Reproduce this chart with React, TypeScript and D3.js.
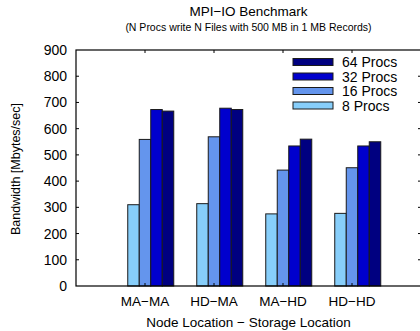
import React from "react";
import * as d3 from "d3";

const categories = ["MA\u2212MA", "HD\u2212MA", "MA\u2212HD", "HD\u2212HD"];
const seriesNames = ["8 Procs", "16 Procs", "32 Procs", "64 Procs"];
const seriesColors = ["#87CEFA", "#6495ED", "#0000CD", "#000080"];
const procs8 = [310, 314, 275, 277];
const procs16 = [559, 569, 442, 451];
const procs32 = [673, 678, 534, 534];
const procs64 = [667, 673, 560, 550];
const seriesValues = [procs8, procs16, procs32, procs64];
const yTicks = [0, 100, 200, 300, 400, 500, 600, 700, 800, 900];

const W = 420;
const H = 331;
const font = "'Liberation Sans', Arial, Helvetica, sans-serif";

export default function App() {
  const x = d3.scaleLinear().domain([-1, 4]).range([76, 421]);
  const y = d3.scaleLinear().domain([0, 900]).range([286, 50]);
  const barW = 1 / 6;
  const legendOrder = [3, 2, 1, 0];
  return (
    <svg
      width={W}
      height={H}
      style={{ position: "absolute", left: 0, top: 0, background: "#fff" }}
      fontFamily={font}
    >
      <text x={248.5} y={16} textAnchor="middle" fontSize={13.5} fill="#000">
        MPI{"\u2212"}IO Benchmark
      </text>
      <text x={248.5} y={31} textAnchor="middle" fontSize={10.5} fill="#000">
        (N Procs write N Files with 500 MB in 1 MB Records)
      </text>

      {/* bars */}
      {seriesValues.map((vals, s) =>
        vals.map((v, i) => {
          const x0 = x(i - 0.25 + s * barW);
          const x1 = x(i - 0.25 + (s + 1) * barW);
          return (
            <rect
              key={`${s}-${i}`}
              x={x0}
              y={y(v)}
              width={x1 - x0}
              height={y(0) - y(v)}
              fill={seriesColors[s]}
              stroke="#1a1a1a"
              strokeWidth={1}
            />
          );
        })
      )}

      {/* frame */}
      <rect x={76} y={50} width={345} height={236} fill="none" stroke="#000" strokeWidth={1.2} />

      {/* y ticks */}
      {yTicks.map((t) => (
        <g key={t}>
          {t > 0 && t < 900 && (
            <>
              <line x1={76} x2={79} y1={y(t)} y2={y(t)} stroke="#000" strokeWidth={1} />
              <line x1={418} x2={421} y1={y(t)} y2={y(t)} stroke="#000" strokeWidth={1} />
            </>
          )}
          <text x={67} y={y(t) + 5} textAnchor="end" fontSize={14} fill="#000">
            {t}
          </text>
        </g>
      ))}

      {/* x ticks and labels */}
      {categories.map((c, i) => (
        <g key={c}>
          <line x1={x(i)} x2={x(i)} y1={50} y2={53} stroke="#000" strokeWidth={1} />
          <line x1={x(i)} x2={x(i)} y1={286} y2={283} stroke="#000" strokeWidth={1} />
          <text x={x(i)} y={306} textAnchor="middle" fontSize={13.5} fill="#000">
            {c}
          </text>
        </g>
      ))}

      <text x={248.5} y={327} textAnchor="middle" fontSize={13.5} fill="#000">
        Node Location {"\u2212"} Storage Location
      </text>
      <text
        transform={`translate(20,169) rotate(-90)`}
        textAnchor="middle"
        fontSize={12.5}
        fill="#000"
      >
        Bandwidth [Mbytes/sec]
      </text>

      {/* legend */}
      {legendOrder.map((s, k) => {
        const cy = 62 + k * 14.5;
        return (
          <g key={s}>
            <rect x={293} y={cy - 3.5} width={40} height={7} fill={seriesColors[s]} stroke="#1a1a1a" strokeWidth={1} />
            <text x={342} y={cy + 5} fontSize={14} fill="#000">
              {seriesNames[s]}
            </text>
          </g>
        );
      })}
    </svg>
  );
}
